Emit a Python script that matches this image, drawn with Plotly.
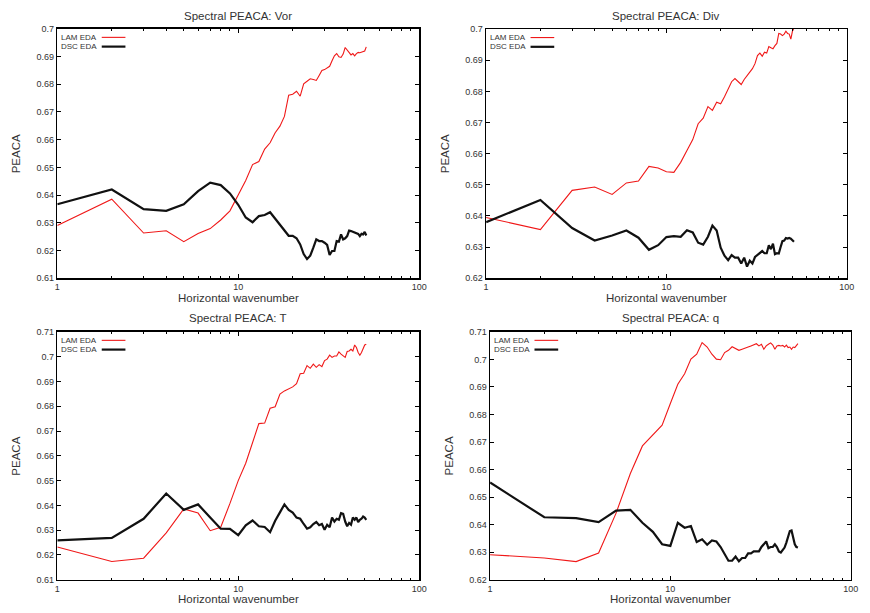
import plotly.graph_objects as go

wavenumber = list(range(1, 52))

vor_lam = [0.6290, 0.6385, 0.6263, 0.6271, 0.6232, 0.6261, 0.6279, 0.6310, 0.6343, 0.6400,
           0.6453, 0.6510, 0.6521, 0.6566, 0.6589, 0.6625, 0.6649, 0.6684, 0.6761, 0.6764,
           0.6775, 0.6757, 0.6802, 0.6811, 0.6820, 0.6817, 0.6814, 0.6832, 0.6850, 0.6853,
           0.6859, 0.6865, 0.6885, 0.6903, 0.6911, 0.6899, 0.6897, 0.6909, 0.6933, 0.6923,
           0.6915, 0.6906, 0.6911, 0.6903, 0.6911, 0.6915, 0.6914, 0.6917, 0.6918, 0.6920, 0.6935]
vor_dsc = [0.6367, 0.6420, 0.6349, 0.6343, 0.6367, 0.6414, 0.6445, 0.6436, 0.6406, 0.6365,
           0.6319, 0.6302, 0.6324, 0.6328, 0.6338, 0.6315, 0.6291, 0.6272, 0.6253, 0.6253,
           0.6244, 0.6222, 0.6187, 0.6169, 0.6181, 0.6210, 0.6240, 0.6234, 0.6234, 0.6228,
           0.6220, 0.6184, 0.6198, 0.6198, 0.6234, 0.6232, 0.6258, 0.6240, 0.6244, 0.6252,
           0.6272, 0.6270, 0.6267, 0.6266, 0.6264, 0.6260, 0.6252, 0.6260, 0.6258, 0.6267, 0.6254]

div_lam = [0.6395, 0.6356, 0.6482, 0.6493, 0.6469, 0.6506, 0.6512, 0.6559, 0.6554, 0.6542,
           0.6540, 0.6572, 0.6610, 0.6645, 0.6696, 0.6714, 0.6751, 0.6739, 0.6765, 0.6760,
           0.6783, 0.6806, 0.6831, 0.6841, 0.6831, 0.6822, 0.6838, 0.6852, 0.6862, 0.6873,
           0.6889, 0.6915, 0.6923, 0.6913, 0.6926, 0.6923, 0.6944, 0.6940, 0.6937, 0.6947,
           0.6954, 0.6986, 0.6984, 0.6979, 0.6984, 0.6993, 0.6986, 0.6984, 0.6968, 0.6993, 0.7003]
div_dsc = [0.6380, 0.6451, 0.6361, 0.6321, 0.6337, 0.6353, 0.6330, 0.6291, 0.6306, 0.6332,
           0.6335, 0.6333, 0.6354, 0.6347, 0.6314, 0.6308, 0.6333, 0.6369, 0.6353, 0.6298,
           0.6272, 0.6258, 0.6274, 0.6266, 0.6266, 0.6247, 0.6266, 0.6237, 0.6256, 0.6247,
           0.6268, 0.6275, 0.6282, 0.6287, 0.6280, 0.6280, 0.6306, 0.6293, 0.6311, 0.6277,
           0.6280, 0.6279, 0.6300, 0.6319, 0.6321, 0.6329, 0.6327, 0.6329, 0.6327, 0.6321, 0.6317]

t_lam = [0.6232, 0.6174, 0.6187, 0.6289, 0.6386, 0.6369, 0.6298, 0.6312, 0.6408, 0.6500,
         0.6570, 0.6655, 0.6730, 0.6732, 0.6792, 0.6798, 0.6849, 0.6862, 0.6871, 0.6878,
         0.6891, 0.6931, 0.6933, 0.6964, 0.6953, 0.6970, 0.6957, 0.6968, 0.6960, 0.6984,
         0.6990, 0.7006, 0.6997, 0.7003, 0.7003, 0.7019, 0.7010, 0.7003, 0.6997, 0.7021,
         0.7023, 0.7030, 0.7023, 0.7047, 0.7037, 0.7017, 0.7006, 0.7017, 0.7030, 0.7047, 0.7050]
t_dsc = [0.6259, 0.6269, 0.6346, 0.6448, 0.6382, 0.6404, 0.6351, 0.6306, 0.6305, 0.6280,
         0.6320, 0.6339, 0.6316, 0.6313, 0.6292, 0.6338, 0.6372, 0.6404, 0.6382, 0.6371,
         0.6351, 0.6346, 0.6325, 0.6306, 0.6312, 0.6325, 0.6333, 0.6320, 0.6325, 0.6302,
         0.6322, 0.6312, 0.6351, 0.6335, 0.6346, 0.6342, 0.6369, 0.6366, 0.6335, 0.6316,
         0.6329, 0.6322, 0.6351, 0.6342, 0.6351, 0.6333, 0.6342, 0.6346, 0.6355, 0.6351, 0.6342]

q_lam = [0.6291, 0.6279, 0.6266, 0.6297, 0.6442, 0.6586, 0.6686, 0.6724, 0.6761, 0.6840,
         0.6910, 0.6948, 0.7001, 0.7019, 0.7061, 0.7045, 0.7019, 0.7001, 0.6999, 0.7025,
         0.7033, 0.7046, 0.7039, 0.7033, 0.7037, 0.7040, 0.7045, 0.7049, 0.7052, 0.7057,
         0.7049, 0.7055, 0.7037, 0.7049, 0.7055, 0.7060, 0.7052, 0.7037, 0.7049, 0.7051,
         0.7049, 0.7051, 0.7045, 0.7052, 0.7043, 0.7045, 0.7037, 0.7045, 0.7043, 0.7049, 0.7057]
q_dsc = [0.6553, 0.6427, 0.6424, 0.6409, 0.6451, 0.6454, 0.6407, 0.6374, 0.6329, 0.6323,
         0.6407, 0.6389, 0.6395, 0.6337, 0.6347, 0.6327, 0.6343, 0.6339, 0.6319, 0.6296,
         0.6269, 0.6269, 0.6284, 0.6267, 0.6279, 0.6279, 0.6296, 0.6296, 0.6303, 0.6303,
         0.6303, 0.6319, 0.6329, 0.6339, 0.6315, 0.6319, 0.6319, 0.6329, 0.6319, 0.6303,
         0.6299, 0.6307, 0.6317, 0.6335, 0.6359, 0.6377, 0.6379, 0.6353, 0.6329, 0.6319, 0.6317]

titles = ["Spectral PEACA: Vor", "Spectral PEACA: Div", "Spectral PEACA: T", "Spectral PEACA: q"]
series_names = ["LAM EDA", "DSC EDA"]
x_title = "Horizontal wavenumber"
y_title = "PEACA"

x_major_ticks = [1, 10, 100]
x_major_labels = ["1", "10", "100"]
x_minor_ticks = [2, 3, 4, 5, 6, 7, 8, 9, 20, 30, 40, 50, 60, 70, 80, 90]

y_ticks_top = [0.61, 0.62, 0.63, 0.64, 0.65, 0.66, 0.67, 0.68, 0.69, 0.70]
y_labels_top = ["0.61", "0.62", "0.63", "0.64", "0.65", "0.66", "0.67", "0.68", "0.69", "0.7"]
y_ticks_div = [0.62, 0.63, 0.64, 0.65, 0.66, 0.67, 0.68, 0.69, 0.70]
y_labels_div = ["0.62", "0.63", "0.64", "0.65", "0.66", "0.67", "0.68", "0.69", "0.7"]
y_ticks_t = [0.61, 0.62, 0.63, 0.64, 0.65, 0.66, 0.67, 0.68, 0.69, 0.70, 0.71]
y_labels_t = ["0.61", "0.62", "0.63", "0.64", "0.65", "0.66", "0.67", "0.68", "0.69", "0.7", "0.71"]
y_ticks_q = [0.62, 0.63, 0.64, 0.65, 0.66, 0.67, 0.68, 0.69, 0.70, 0.71]
y_labels_q = ["0.62", "0.63", "0.64", "0.65", "0.66", "0.67", "0.68", "0.69", "0.7", "0.71"]

W, H = 870, 613
# plot areas in pixels: (left, right, top, bottom)
panels = [
    (55.0, 421.5, 24.3, 277.7),
    (489.3, 854.5, 24.5, 277.7),
    (55.0, 421.5, 332.3, 584.3),
    (493.3, 858.5, 332.3, 584.3),
]
data = [(vor_lam, vor_dsc), (div_lam, div_dsc), (t_lam, t_dsc), (q_lam, q_dsc)]
yinfo = [(y_ticks_top, y_labels_top, [0.61, 0.70]),
         (y_ticks_div, y_labels_div, [0.62, 0.70]),
         (y_ticks_t, y_labels_t, [0.61, 0.71]),
         (y_ticks_q, y_labels_q, [0.62, 0.71])]

RED = "#f01818"
BLACK = "#111111"
TXT = "#333333"
FONT = "Liberation Sans, Arial, sans-serif"

fig = go.Figure()
annotations = []
shapes = []
layout = {}

for i, ((l, r, t, b), (lam, dsc), (yt, yl, yr)) in enumerate(zip(panels, data, yinfo)):
    n = i + 1
    xa = "x" if n == 1 else f"x{n}"
    ya = "y" if n == 1 else f"y{n}"
    xkey = "xaxis" if n == 1 else f"xaxis{n}"
    ykey = "yaxis" if n == 1 else f"yaxis{n}"
    fig.add_trace(go.Scatter(x=wavenumber, y=lam, mode="lines", name=series_names[0],
                             line=dict(color=RED, width=1.1), xaxis=xa, yaxis=ya, showlegend=False))
    fig.add_trace(go.Scatter(x=wavenumber, y=dsc, mode="lines", name=series_names[1],
                             line=dict(color=BLACK, width=2.2), xaxis=xa, yaxis=ya, showlegend=False))
    layout[xkey] = dict(
        domain=[l / W, r / W], anchor=ya, type="log", range=[0, 2],
        tickmode="array", tickvals=x_major_ticks, ticktext=x_major_labels,
        ticks="inside", ticklen=4, tickwidth=1, tickcolor="black",
        minor=dict(tickmode="array", tickvals=x_minor_ticks, ticks="inside", ticklen=2,
                   tickcolor="black", tickwidth=1, showgrid=False),
        showline=True, linecolor="black", linewidth=1.5, mirror="ticks",
        showgrid=False, zeroline=False,
        tickfont=dict(family=FONT, size=9, color=TXT),
    )
    layout[ykey] = dict(
        domain=[1 - b / H, 1 - t / H], anchor=xa, range=yr,
        tickmode="array", tickvals=yt, ticktext=yl,
        ticks="inside", ticklen=4, tickwidth=1, tickcolor="black",
        showline=True, linecolor="black", linewidth=1.5, mirror="ticks",
        showgrid=False, zeroline=False,
        tickfont=dict(family=FONT, size=9, color=TXT),
    )
    cx = (l + r) / 2 / W
    title_y = 11 if i < 2 else 318.5
    annotations.append(dict(text=titles[i], x=cx, y=1 - title_y / H, xref="paper", yref="paper",
                            showarrow=False, xanchor="center", yanchor="middle",
                            font=dict(family=FONT, size=11.5, color=TXT)))
    xt_y = b + 20
    annotations.append(dict(text=x_title, x=cx, y=1 - xt_y / H, xref="paper", yref="paper",
                            showarrow=False, xanchor="center", yanchor="middle",
                            font=dict(family=FONT, size=11.5, color=TXT)))
    annotations.append(dict(text=y_title, x=(l - 42) / W, y=1 - (t + b) / 2 / H,
                            xref="paper", yref="paper", textangle=-90,
                            showarrow=False, xanchor="center", yanchor="middle",
                            font=dict(family=FONT, size=11.5, color=TXT)))
    # legend (gnuplot style: text then sample line)
    pw, ph = r - l, b - t
    for j, (nm, col, wd) in enumerate([(series_names[0], RED, 1.1), (series_names[1], BLACK, 2.2)]):
        yy = 1 - (8.6 + 9.4 * j) / ph
        annotations.append(dict(text=nm, x=3 / pw, y=yy, xref=f"{xa} domain", yref=f"{ya} domain",
                                showarrow=False, xanchor="left", yanchor="middle", borderpad=0,
                                font=dict(family=FONT, size=8.0, color=TXT)))
        shapes.append(dict(type="line", xref=f"{xa} domain", yref=f"{ya} domain",
                           x0=45 / pw, x1=69 / pw, y0=yy, y1=yy,
                           line=dict(color=col, width=wd)))

fig.update_layout(
    width=W, height=H, autosize=False,
    margin=dict(l=0, r=0, t=0, b=0),
    paper_bgcolor="white", plot_bgcolor="white",
    annotations=annotations, shapes=shapes,
    showlegend=False, hovermode=False,
    **layout,
)

fig.write_html("out.html",
               config={"displayModeBar": False, "staticPlot": True},
               post_script="document.body.style.margin='0';document.body.style.padding='0';"
                           "document.body.style.overflow='hidden';")
